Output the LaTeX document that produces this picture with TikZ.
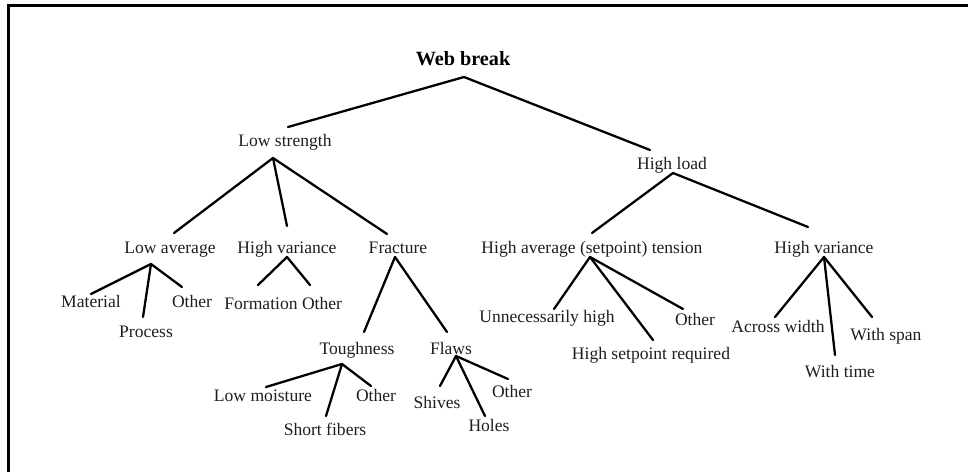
\documentclass[tikz,border=0pt]{standalone}
\usepackage{fontspec}
\setmainfont{Liberation Serif}

\begin{document}
\begin{tikzpicture}[
    x=0.02cm, y=-0.02cm,
    line cap=round,
    line join=round,
    every node/.style={font=\fontsize{10}{12}\selectfont, text=txtgray,
        inner sep=0pt, text height=7pt, text depth=2pt},
    title/.style={font=\fontsize{11.5}{13}\selectfont\bfseries, text=black},
    treeline/.style={line width=1.3pt},
    frameline/.style={line width=1.6pt, line cap=butt, line join=miter}
]

\definecolor{txtgray}{RGB}{30,30,30}

\useasboundingbox (0,0) rectangle (968,471);

% -----------------------------
% Frame (top and left edge)
% -----------------------------
\draw[frameline] (8.7,475) -- (8.7,5.3) -- (972,5.3);

% -----------------------------
% Root and first level
% -----------------------------
\node[title] (wb) at (463,61) {Web break};

\node (ls) at (285,142) {Low strength};
\node (hl) at (672,165) {High load};

\draw[treeline] ([shift={(1,16)}]wb.center) -- ([shift={(3,-15)}]ls.center);
\draw[treeline] ([shift={(1,16)}]wb.center) -- ([shift={(-22,-15)}]hl.center);

% -----------------------------
% Low strength branch
% -----------------------------
\node (la)  at (170,249) {Low average};
\node (hv1) at (287,249) {High variance};
\node (fr)  at (398,249) {Fracture};

\draw[treeline] ([shift={(-12,16)}]ls.center) -- ([shift={(4,-16)}]la.center);
\draw[treeline] ([shift={(-12,16)}]ls.center) -- ([shift={(0,-23)}]hv1.center);
\draw[treeline] ([shift={(-12,16)}]ls.center) -- ([shift={(-11,-15)}]fr.center);

% low average
\node (ma)  at (91,303)  {Material};
\node (pr)  at (146,333) {Process};
\node (ot1) at (192,303) {Other};

\draw[treeline] ([shift={(-19,15)}]la.center) -- ([shift={(0,-9)}]ma.center);
\draw[treeline] ([shift={(-19,15)}]la.center) -- ([shift={(-3,-16)}]pr.center);
\draw[treeline] ([shift={(-19,15)}]la.center) -- ([shift={(-10,-16)}]ot1.center);

% high variance
\node (fo)  at (261,305) {Formation};
\node (ot2) at (322,305) {Other};

\draw[treeline] ([shift={(0,8)}]hv1.center) -- ([shift={(-3,-20)}]fo.center);
\draw[treeline] ([shift={(0,8)}]hv1.center) -- ([shift={(-12,-20)}]ot2.center);

% fracture
\node (to) at (357,350) {Toughness};
\node (fl) at (451,350) {Flaws};

\draw[treeline] ([shift={(-3,8)}]fr.center) -- ([shift={(7,-18)}]to.center);
\draw[treeline] ([shift={(-3,8)}]fr.center) -- ([shift={(-4,-18)}]fl.center);

\node (lm)  at (263,397) {Low moisture};
\node (sf)  at (325,431) {Short fibers};
\node (ot3) at (376,397) {Other};

\draw[treeline] ([shift={(-15,14)}]to.center) -- ([shift={(3,-10)}]lm.center);
\draw[treeline] ([shift={(-15,14)}]to.center) -- ([shift={(1,-15)}]sf.center);
\draw[treeline] ([shift={(-15,14)}]to.center) -- ([shift={(-5,-11)}]ot3.center);

\node (sh)  at (437,404) {Shives};
\node (ho)  at (489,427) {Holes};
\node (ot4) at (512,393) {Other};

\draw[treeline] ([shift={(5,6)}]fl.center) -- ([shift={(3,-18)}]sh.center);
\draw[treeline] ([shift={(5,6)}]fl.center) -- ([shift={(-4,-11)}]ho.center);
\draw[treeline] ([shift={(5,6)}]fl.center) -- ([shift={(-4,-14)}]ot4.center);

% -----------------------------
% High load branch
% -----------------------------
\node (hat) at (592,249) {High average (setpoint) tension};
\node (hv2) at (824,249) {High variance};

\draw[treeline] ([shift={(1,8)}]hl.center) -- ([shift={(0,-16)}]hat.center);
\draw[treeline] ([shift={(1,8)}]hl.center) -- ([shift={(-16,-22)}]hv2.center);

% high average tension
\node (un)  at (547,318) {Unnecessarily high};
\node (hs)  at (651,355) {High setpoint required};
\node (ot5) at (695,321) {Other};

\draw[treeline] ([shift={(-2,8)}]hat.center) -- ([shift={(7,-9)}]un.center);
\draw[treeline] ([shift={(-2,8)}]hat.center) -- ([shift={(2,-15)}]hs.center);
\draw[treeline] ([shift={(-2,8)}]hat.center) -- ([shift={(-12,-12)}]ot5.center);

% high variance
\node (aw) at (778,328) {Across width};
\node (wt) at (840,373) {With time};
\node (ws) at (886,336) {With span};

\draw[treeline] ([shift={(0,8)}]hv2.center) -- ([shift={(-3,-11)}]aw.center);
\draw[treeline] ([shift={(0,8)}]hv2.center) -- ([shift={(-5,-18)}]wt.center);
\draw[treeline] ([shift={(0,8)}]hv2.center) -- ([shift={(-14,-19)}]ws.center);

\end{tikzpicture}
\end{document}
